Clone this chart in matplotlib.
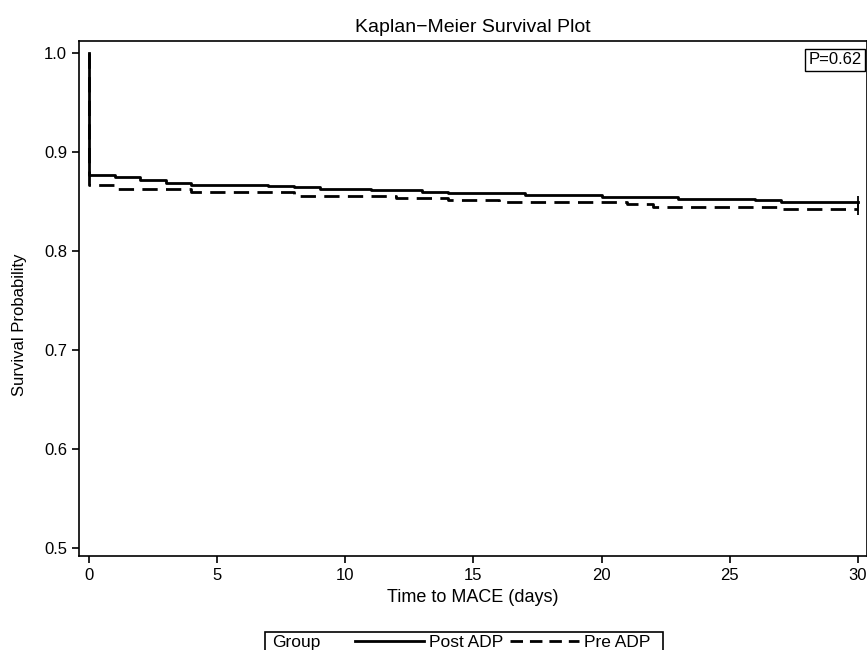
import numpy as np
import matplotlib
matplotlib.use('Agg')
import matplotlib.pyplot as plt
from matplotlib.lines import Line2D
from matplotlib.patches import Rectangle

plt.rcParams['font.family'] = ['Liberation Sans', 'DejaVu Sans']

## donnees
post_time = [0, 0, 1, 2, 3, 4, 7, 8, 9, 11, 13, 14, 17, 20, 23, 26, 27, 30]
post_surv = [1.0, 0.876, 0.874, 0.871, 0.868, 0.866, 0.865, 0.864, 0.862, 0.861,
             0.859, 0.858, 0.856, 0.854, 0.852, 0.851, 0.849, 0.849]

pre_time = [0, 0, 1, 4, 8, 12, 14, 16, 21, 22, 27, 30]
pre_surv = [1.0, 0.866, 0.862, 0.859, 0.855, 0.853, 0.851, 0.849, 0.847, 0.844, 0.842, 0.842]

x_ticks = [0, 5, 10, 15, 20, 25, 30]
y_ticks = [0.5, 0.6, 0.7, 0.8, 0.9, 1.0]
p_value = 'P=0.62'

##figure
fig = plt.figure(figsize=(8.67, 6.5), dpi=100)
ax = fig.add_axes([0.0911, 0.1446, 0.9089, 0.7923])

dash = (0, (5.5, 3))
ax.step(post_time, post_surv, where='post', color='black', lw=2)
ax.step(pre_time, pre_surv, where='post', color='black', lw=2, linestyle=dash)
# marques de censure a la fin
ax.plot([post_time[-1]], [post_surv[-1]], marker='|', color='black', ms=8, mew=1.3)
ax.plot([pre_time[-1]], [pre_surv[-1]], marker='|', color='black', ms=8, mew=1.3)

ax.set_xlim(-0.39, 30.36)
ax.set_ylim(0.4916, 1.0118)
ax.set_xticks(x_ticks)
ax.set_yticks(y_ticks)
ax.set_yticklabels([f'{v:.1f}' for v in y_ticks])
ax.tick_params(direction='out', length=5, width=1.2, labelsize=12)
for s in ax.spines.values():
    s.set_linewidth(1.2)

ax.text(0.993, 0.978, p_value, transform=ax.transAxes, ha='right', va='top', fontsize=12,
        bbox=dict(boxstyle='square,pad=0.2', fc='white', ec='black', lw=1))

fig.text(0.5455, 0.958, 'Kaplan\u2212Meier Survival Plot', ha='center', va='center', fontsize=14)
fig.text(0.5455, 0.0815, 'Time to MACE (days)', ha='center', va='center', fontsize=13)
fig.text(0.023, 0.5, 'Survival Probability', ha='center', va='center', rotation=90, fontsize=12)

##legende
fig.patches.append(Rectangle((265 / 867, -0.01), 398 / 867, 18 / 650 + 0.01,
                             transform=fig.transFigure, fc='none', ec='black', lw=1.2))
fig.text(272 / 867, 0.012, 'Group', ha='left', va='center', fontsize=12.5)
handles = [Line2D([], [], color='black', lw=2),
           Line2D([], [], color='black', lw=2, linestyle=(0, (4.5, 2.5)))]
fig.legend(handles, ['Post ADP', 'Pre ADP'], ncol=2, frameon=False, fontsize=12.5,
           loc='center left', bbox_to_anchor=(355 / 867, 0.012), handlelength=4.0,
           handletextpad=0.25, columnspacing=0.4, borderpad=0, borderaxespad=0)

fig.savefig('out.png', dpi=100)
